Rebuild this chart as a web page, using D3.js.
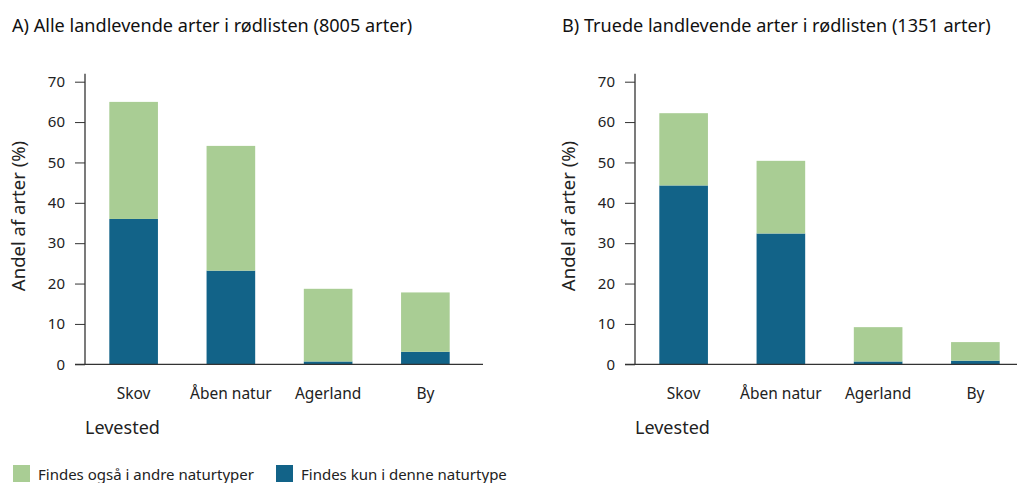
<!DOCTYPE html>
<html>
<head>
<meta charset="utf-8">
<script src="https://cdn.jsdelivr.net/npm/d3@7"></script>
<style>
  body { margin: 0; background: #fff; }
  svg { display: block; font-family: "Noto Sans", sans-serif; }
</style>
</head>
<body>
<svg id="chart" width="1017" height="483"></svg>
<script>
// habitat categories
var categories = ["Skov", "Åben natur", "Agerland", "By"];
var yTicks = [0, 10, 20, 30, 40, 50, 60, 70];

// panel A: all species (8005)
var onlyHereA = [36, 23.2, 0.7, 3.1];
var alsoElsewhereA = [29, 30.9, 18, 14.7];
// panel B: threatened species (1351)
var onlyHereB = [44.3, 32.4, 0.7, 0.9];
var alsoElsewhereB = [17.9, 18, 8.5, 4.6];

var seriesNames = ["Findes også i andre naturtyper", "Findes kun i denne naturtype"];
var colors = { also: "#a9cd94", only: "#126388" };

var panels = [
  { title: "A) Alle landlevende arter i rødlisten (8005 arter)", x0: 85, only: onlyHereA, also: alsoElsewhereA },
  { title: "B) Truede landlevende arter i rødlisten (1351 arter)", x0: 635, only: onlyHereB, also: alsoElsewhereB }
];

var svg = d3.select("#chart");
var y = d3.scaleLinear().domain([0, 70]).range([364.3, 81.7]);

panels.forEach(function(p) {
  var g = svg.append("g");
  var x = d3.scaleBand().domain(categories).range([p.x0, p.x0 + 389]).paddingInner(0.5).paddingOuter(0.25);

  g.append("text").attr("x", p.x0 - 73).attr("y", 32)
    .attr("font-size", 18.1).attr("fill", "#111").text(p.title);

  var rows = categories.map(function(c, i) {
    return { cat: c, only: p.only[i], also: p.also[i] };
  });

  // bars
  g.selectAll("rect.only").data(rows).enter().append("rect")
    .attr("x", function(d) { return x(d.cat); })
    .attr("width", x.bandwidth())
    .attr("y", function(d) { return y(d.only); })
    .attr("height", function(d) { return y(0) - y(d.only); })
    .attr("fill", colors.only);
  g.selectAll("rect.also").data(rows).enter().append("rect")
    .attr("x", function(d) { return x(d.cat); })
    .attr("width", x.bandwidth())
    .attr("y", function(d) { return y(d.only + d.also); })
    .attr("height", function(d) { return y(d.only) - y(d.only + d.also); })
    .attr("fill", colors.also);

  // y axis
  var ya = g.append("g").attr("transform", "translate(" + p.x0 + ",0)")
    .call(d3.axisLeft(y).tickValues(yTicks).tickSize(10).tickPadding(10));
  ya.select(".domain").remove();
  ya.selectAll("line").attr("stroke", "#333");
  ya.selectAll("text").attr("font-size", 15).attr("fill", "#222").attr("font-family", "Noto Sans, sans-serif");
  g.append("line").attr("x1", p.x0).attr("x2", p.x0).attr("y1", y(72)).attr("y2", y(0))
    .attr("stroke", "#333").attr("stroke-width", 1.3);
  // x baseline
  g.append("line").attr("x1", p.x0 - 10).attr("x2", p.x0 + 398).attr("y1", y(0)).attr("y2", y(0))
    .attr("stroke", "#333").attr("stroke-width", 1.3);

  // category labels
  g.selectAll("text.cat").data(categories).enter().append("text")
    .attr("x", function(d) { return x(d) + x.bandwidth() / 2; })
    .attr("y", 399).attr("text-anchor", "middle")
    .attr("font-size", 15.5).attr("fill", "#222").text(function(d) { return d; });

  g.append("text").attr("x", p.x0).attr("y", 434)
    .attr("font-size", 18).attr("fill", "#222").text("Levested");

  g.append("text").attr("transform", "translate(" + (p.x0 - 60) + ",216) rotate(-90)")
    .attr("text-anchor", "middle").attr("font-size", 18.5).attr("fill", "#222")
    .text("Andel af arter (%)");
});

// legend
var legend = svg.append("g");
var items = [
  { name: seriesNames[0], color: colors.also, x: 13 },
  { name: seriesNames[1], color: colors.only, x: 276 }
];
items.forEach(function(it) {
  legend.append("rect").attr("x", it.x).attr("y", 465).attr("width", 17).attr("height", 17).attr("fill", it.color);
  legend.append("text").attr("x", it.x + 25).attr("y", 480).attr("font-size", 15).attr("fill", "#222").text(it.name);
});
</script>
</body>
</html>
